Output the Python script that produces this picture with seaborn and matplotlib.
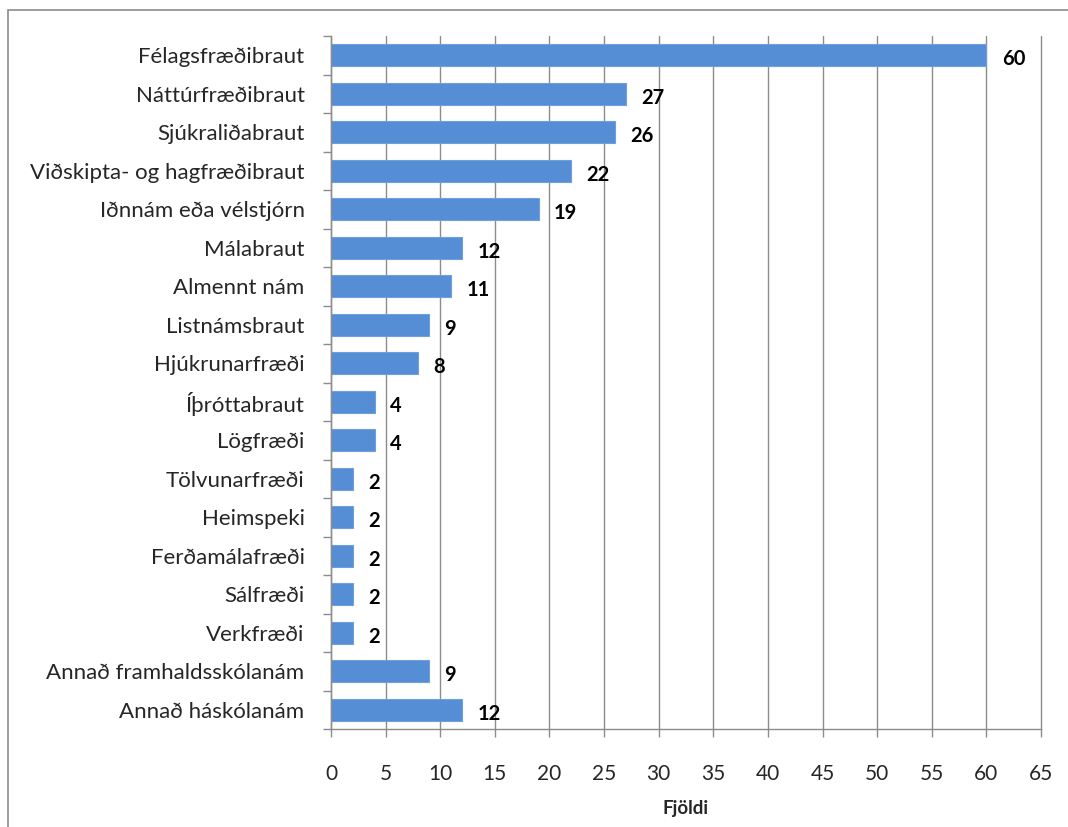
import matplotlib
matplotlib.use("Agg")
import matplotlib.pyplot as plt
import seaborn as sns
import pandas as pd
import numpy as np
from matplotlib.patches import Rectangle
from matplotlib.ticker import FixedLocator

categories = ["Félagsfræðibraut", "Náttúrfræðibraut", "Sjúkraliðabraut",
              "Viðskipta- og hagfræðibraut", "Iðnnám eða vélstjórn", "Málabraut",
              "Almennt nám", "Listnámsbraut", "Hjúkrunarfræði", "Íþróttabraut",
              "Lögfræði", "Tölvunarfræði", "Heimspeki", "Ferðamálafræði",
              "Sálfræði", "Verkfræði", "Annað framhaldsskólanám", "Annað háskólanám"]
values = [60, 27, 26, 22, 19, 12, 11, 9, 8, 4, 4, 2, 2, 2, 2, 2, 9, 12]
x_ticks = list(range(0, 70, 5))
x_label = "Fjöldi"

sns.set_theme(style="white")
plt.rcParams['font.family'] = ['Lato', 'DejaVu Sans']

df = pd.DataFrame({"cat": categories, "val": values})

fig = plt.figure(figsize=(10.68, 8.27), dpi=100)
ax = fig.add_axes([331/1068, 1-729/827, (1041-331)/1068, (729-36)/827])

sns.barplot(data=df, x="val", y="cat", orient="h", color="#558ED5",
            width=0.57, ax=ax, edgecolor="#6f9fdc", linewidth=0.8, saturation=1)

ax.set_xlim(0, 65)
ax.set_ylim(len(categories) - 0.5, -0.5)
ax.set_xticks(x_ticks)
ax.set_xticklabels([str(t) for t in x_ticks])
ax.xaxis.grid(True, color="#8c8c8c", linewidth=1)
for gl in ax.get_xgridlines():
    gl.set_clip_on(False)
ax.set_axisbelow(True)
for s in ["top", "right"]:
    ax.spines[s].set_visible(False)
for s in ["left", "bottom"]:
    ax.spines[s].set_color("#8c8c8c")
    ax.spines[s].set_linewidth(1)

ax.tick_params(axis="x", which="major", direction="out", length=6, width=1,
               color="#8c8c8c", pad=19, labelsize=15, bottom=True)
ax.tick_params(axis="y", which="major", length=0, pad=19, labelsize=16)
ax.yaxis.set_minor_locator(FixedLocator(np.arange(-0.5, len(categories), 1.0)))
ax.tick_params(axis="y", which="minor", direction="out", length=6, width=1,
               color="#8c8c8c", left=True)

ax.set_ylabel("")
ax.set_xlabel(x_label, fontsize=13.5, fontweight="bold", labelpad=12)

for i, v in enumerate(values):
    ax.annotate(str(v), xy=(v, i), xytext=(11, -3), textcoords="offset points",
                ha="left", va="center", fontsize=14.5, fontweight="bold", color="black")

fig.add_artist(Rectangle((8/1068, -0.1), 1.2, 1 - 10/827 + 0.1,
                         transform=fig.transFigure, fill=False,
                         edgecolor="#8c8c8c", linewidth=1.2))

fig.savefig("out.png", dpi=100)
